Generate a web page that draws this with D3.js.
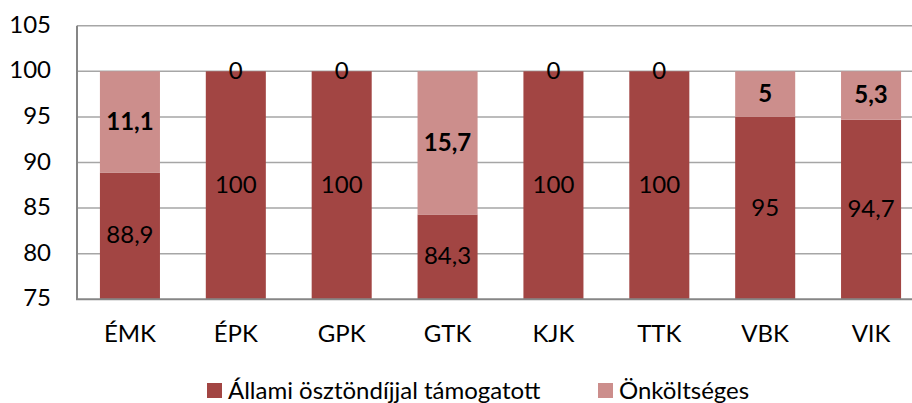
<!DOCTYPE html>
<html>
<head>
<meta charset="utf-8">
<script src="https://cdn.jsdelivr.net/npm/d3@7"></script>
<style>
  body { margin: 0; background: #fff; }
  svg { display: block; font-family: Lato, "Open Sans", sans-serif; }
</style>
</head>
<body>
<svg id="chart" width="912" height="403"></svg>
<script>
// data
const categories = ["ÉMK", "ÉPK", "GPK", "GTK", "KJK", "TTK", "VBK", "VIK"];
const allami = [88.9, 100, 100, 84.3, 100, 100, 95, 94.7];
const onkoltseges = [11.1, 0, 0, 15.7, 0, 0, 5, 5.3];
const seriesNames = ["Állami ösztöndíjjal támogatott", "Önköltséges"];
const yTicks = [75, 80, 85, 90, 95, 100, 105];

const colors = ["#a24543", "#cc8e8c"];

const svg = d3.select("#chart");
const plotLeft = 77, plotTop = 25.7, plotBottom = 299.3;
const fontSize = 24;

const x = d3.scaleBand()
  .domain(categories)
  .range([plotLeft, 924])
  .paddingInner(0.433)
  .paddingOuter(0.2165);

const y = d3.scaleLinear().domain([75, 105]).range([plotBottom, plotTop]);

const fmt = v => String(v).replace(".", ",");

// gridlines
svg.append("g")
  .selectAll("line")
  .data(yTicks.filter(t => t > 75))
  .enter().append("line")
  .attr("x1", plotLeft).attr("x2", 912)
  .attr("y1", d => y(d)).attr("y2", d => y(d))
  .attr("stroke", "#a6a6a6")
  .attr("stroke-width", 1.5);

// stacked rows
const rows = categories.map((c, i) => ({cat: c, a: allami[i], o: onkoltseges[i]}));
const stack = d3.stack().keys(["a", "o"])(rows);

const g = svg.append("g");
stack.forEach((layer, si) => {
  g.selectAll(null)
    .data(layer)
    .enter().append("rect")
    .attr("x", d => x(d.data.cat))
    .attr("width", x.bandwidth())
    .attr("y", d => y(d[1]))
    .attr("height", d => Math.max(0, y(Math.max(75, d[0])) - y(d[1])))
    .attr("fill", colors[si]);
});

// data labels
stack.forEach((layer, si) => {
  g.selectAll(null)
    .data(layer)
    .enter().append("text")
    .attr("x", d => x(d.data.cat) + x.bandwidth() / 2)
    .attr("y", d => (y(Math.max(75, d[0])) + y(d[1])) / 2 + 1.5)
    .attr("text-anchor", "middle")
    .attr("dominant-baseline", "middle")
    .attr("font-size", fontSize)
    .attr("font-weight", d => (si === 1 && d[1] - d[0] > 0) ? "bold" : "normal")
    .attr("fill", "#000")
    .text(d => fmt(+(d[1] - d[0]).toFixed(1)));
});

// axes lines
svg.append("line")
  .attr("x1", plotLeft).attr("x2", plotLeft)
  .attr("y1", plotTop).attr("y2", plotBottom)
  .attr("stroke", "#868686").attr("stroke-width", 2);
svg.append("line")
  .attr("x1", plotLeft - 1).attr("x2", 912)
  .attr("y1", plotBottom).attr("y2", plotBottom)
  .attr("stroke", "#868686").attr("stroke-width", 2);

// y tick labels
svg.append("g")
  .selectAll("text")
  .data(yTicks)
  .enter().append("text")
  .attr("x", 51)
  .attr("y", d => y(d) + 1)
  .attr("text-anchor", "end")
  .attr("dominant-baseline", "middle")
  .attr("font-size", fontSize)
  .attr("fill", "#000")
  .text(d => d);

// x category labels
svg.append("g")
  .selectAll("text")
  .data(categories)
  .enter().append("text")
  .attr("x", d => x(d) + x.bandwidth() / 2)
  .attr("y", 342)
  .attr("text-anchor", "middle")
  .attr("font-size", fontSize)
  .attr("fill", "#000")
  .text(d => d);

// legend
const legendX = [207, 598];
const lg = svg.append("g");
seriesNames.forEach((name, i) => {
  lg.append("rect")
    .attr("x", legendX[i]).attr("y", 383)
    .attr("width", 15).attr("height", 15)
    .attr("fill", colors[i]);
  lg.append("text")
    .attr("x", legendX[i] + 21)
    .attr("y", 399)
    .attr("font-size", fontSize)
    .attr("fill", "#000")
    .text(name);
});
</script>
</body>
</html>
